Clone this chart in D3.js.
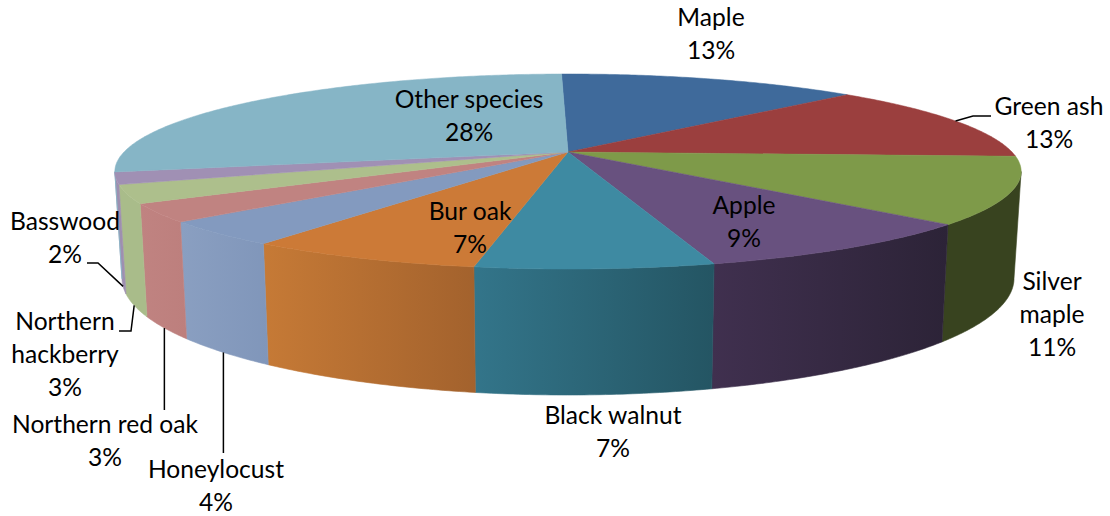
<!DOCTYPE html>
<html>
<head>
<meta charset="utf-8">
<style>
  html, body { margin: 0; padding: 0; background: #fff; }
  text { font-family: Lato, "Open Sans", sans-serif; font-size: 24.6px; fill: #000; text-anchor: middle; }
</style>
<script src="https://cdn.jsdelivr.net/npm/d3@7/dist/d3.min.js"></script>
</head>
<body>
<svg id="chart" width="1110" height="516"></svg>
<script>
// Tree species share of the street inventory, clockwise from twelve o'clock.
const species = ["Maple", "Green ash", "Silver maple", "Apple", "Black walnut", "Bur oak",
  "Honeylocust", "Northern red oak", "Northern hackberry", "Basswood", "Other species"];
const shares = [13, 13, 11, 9, 7, 7, 4, 3, 3, 2, 28];
const topColors = ["#3F6A9B", "#9B3F3E", "#7E9A49", "#68517F", "#3E8AA2", "#CC7A37",
  "#839ABF", "#C08381", "#ADBF8C", "#A090B4", "#86B5C6"];
const sideLeftColors = ["#3F6A9B", "#9B3F3E", "#38431F", "#40304F", "#33758A", "#C67A36",
  "#8A9FC1", "#C08381", "#A9BC8A", "#9E8FB0", "#86B5C6"];
const sideRightColors = ["#3F6A9B", "#9B3F3E", "#38431F", "#2C2337", "#245563", "#A3622D",
  "#8096BA", "#BD7F7D", "#A9BC8A", "#9E8FB0", "#86B5C6"];

// Label lines per slice, and where the first line sits.
const labelLines = [["Maple"], ["Green ash"], ["Silver", "maple"], ["Apple"], ["Black walnut"], ["Bur oak"],
  ["Honeylocust"], ["Northern red oak"], ["Northern", "hackberry"], ["Basswood"], ["Other species"]];
const labelX = [711, 1049, 1052, 744, 613, 470, 216, 105, 65, 65, 469];
const labelY = [26, 115, 290, 214, 424, 220, 478, 433, 330, 230, 108];
const lineHeight = 33;

// Leader lines: slice index, rim they start from, elbow and end (null x keeps the line vertical).
const leaders = [
  { slice: 1, rim: "top", elbow: [973, 116], end: [991, 116] },
  { slice: 6, rim: "bottom", elbow: null, end: [null, 453] },
  { slice: 7, rim: "bottom", elbow: null, end: [null, 410] },
  { slice: 8, rim: "bottom", elbow: [131, 331], end: [119, 331] },
  { slice: 9, rim: "bottom", elbow: [98, 263], end: [87, 263] }
];

// Perspective discs for the upper and lower faces of the pie.
const centerX = 568;
const perspective = 0.2;
const upperDisc = { cy: 152, rx: 444, ry: 93.6 };
const lowerDisc = { cy: 255, rx: 437, ry: 112 };
const silhouette = Math.acos(-perspective);
const firstSliceAngle = -1 * Math.PI / 180;

function project(angle, disc) {
  const u = Math.sin(angle);
  const v = -Math.cos(angle);
  const s = 1 / (1 - perspective * v);
  return [centerX + disc.rx * u * s, disc.cy + disc.ry * v * s];
}

function arcPoints(a0, a1, disc) {
  const n = Math.max(2, Math.ceil((a1 - a0) / 0.01));
  return d3.range(n + 1).map(i => project(a0 + (a1 - a0) * i / n, disc));
}

const arcs = d3.pie().sort(null).value(d => d)
  .startAngle(firstSliceAngle).endAngle(firstSliceAngle + 2 * Math.PI)(shares);
const svg = d3.select("#chart");
const defs = svg.append("defs");
const line = d3.line();

// Rim walls: only the part of each slice that faces the viewer.
const walls = svg.append("g");
arcs.forEach((a, i) => {
  const a0 = Math.max(a.startAngle, silhouette);
  const a1 = Math.min(a.endAngle, 2 * Math.PI - silhouette);
  if (a1 <= a0) return;
  const upper = arcPoints(a0, a1, upperDisc);
  const lower = arcPoints(a0, a1, lowerDisc).reverse();
  const xs = upper.map(p => p[0]).concat(lower.map(p => p[0]));
  const id = "wall-" + i;
  const grad = defs.append("linearGradient").attr("id", id)
    .attr("gradientUnits", "userSpaceOnUse")
    .attr("x1", d3.min(xs)).attr("x2", d3.max(xs)).attr("y1", 0).attr("y2", 0);
  grad.append("stop").attr("offset", 0).attr("stop-color", sideLeftColors[i]);
  grad.append("stop").attr("offset", 1).attr("stop-color", sideRightColors[i]);
  walls.append("path")
    .attr("d", line(upper.concat(lower)) + "Z")
    .attr("fill", `url(#${id})`)
    .attr("stroke", `url(#${id})`)
    .attr("stroke-width", 0.6);
});

// Upper face wedges.
svg.append("g").selectAll("path").data(arcs).join("path")
  .attr("d", a => line([[centerX, upperDisc.cy]].concat(arcPoints(a.startAngle, a.endAngle, upperDisc))) + "Z")
  .attr("fill", (a, i) => topColors[i])
  .attr("stroke", (a, i) => topColors[i])
  .attr("stroke-width", 0.5);

// Leader lines, starting from the middle of the slice's rim.
svg.append("g").selectAll("path").data(leaders).join("path")
  .attr("d", l => {
    const a = arcs[l.slice];
    const start = project((a.startAngle + a.endAngle) / 2, l.rim === "top" ? upperDisc : lowerDisc);
    const pts = [start];
    if (l.elbow) pts.push(l.elbow);
    pts.push([l.end[0] === null ? start[0] : l.end[0], l.end[1]]);
    return line(pts);
  })
  .attr("fill", "none")
  .attr("stroke", "#000")
  .attr("stroke-width", 1.5);

// Two or three centred lines per label, the last one being the percentage.
const labels = svg.append("g").selectAll("text").data(species).join("text")
  .attr("x", (d, i) => labelX[i])
  .attr("y", (d, i) => labelY[i]);
labels.each(function (d, i) {
  const rows = labelLines[i].concat([shares[i] + "%"]);
  d3.select(this).selectAll("tspan").data(rows).join("tspan")
    .attr("x", labelX[i])
    .attr("y", (r, j) => labelY[i] + j * lineHeight)
    .text(r => r);
});
</script>
</body>
</html>
